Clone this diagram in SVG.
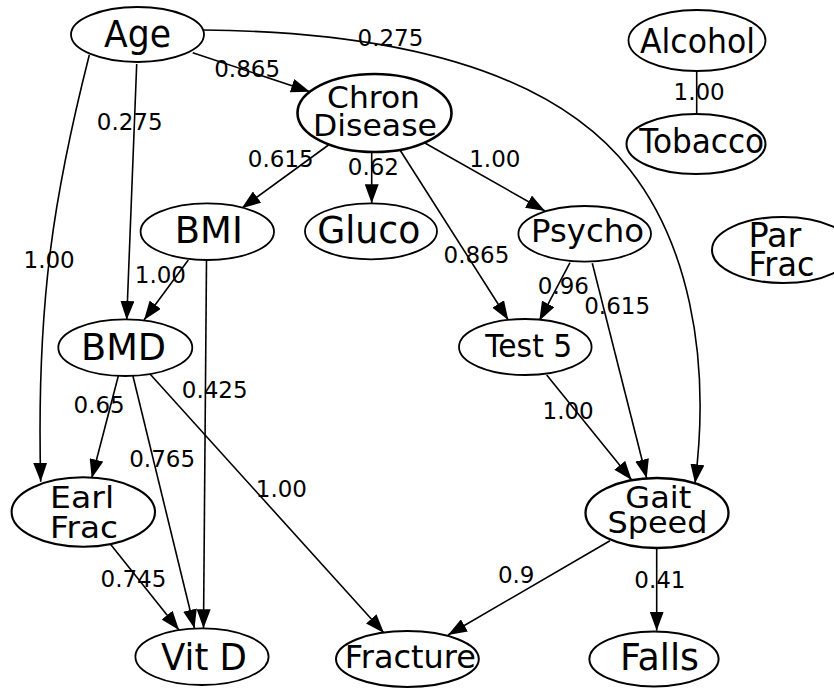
<svg xmlns="http://www.w3.org/2000/svg" width="834" height="688" viewBox="0 0 834 688">
<style>
.edge{fill:none;stroke:#000;stroke-width:1.6}
.lbl{font-family:"DejaVu Sans","Liberation Sans",sans-serif;font-size:23px;fill:#000}
.node ellipse{fill:#fff;stroke:#000;stroke-width:1.8}
.node text{font-family:"DejaVu Sans","Liberation Sans",sans-serif;fill:#000;text-anchor:middle}
.node text.s{text-anchor:start}
</style>
<defs>
<marker id="arr" markerUnits="userSpaceOnUse" markerWidth="19" markerHeight="14" refX="19" refY="7" orient="auto">
<path d="M0,0 L19,7 L0,14 z" fill="#000"/>
</marker>
</defs>
<rect width="834" height="688" fill="#fff"/>
<g id="connectors">
<path class="edge" d="M192.7,52.7 L310,91.7" marker-end="url(#arr)"/>
<text class="lbl" x="214.2" y="77.3">0.865</text>
<path class="edge" d="M203.3,30 C420,32 560,80 630,170 C685,240 712,350 695,483.3" marker-end="url(#arr)"/>
<text class="lbl" x="357.5" y="45.7">0.275</text>
<path class="edge" d="M136.7,64 L126.7,320" marker-end="url(#arr)"/>
<text class="lbl" x="96.8" y="130">0.275</text>
<path class="edge" d="M89.3,55 C55,190 36,300 40.7,481.7" marker-end="url(#arr)"/>
<text class="lbl" x="23.5" y="268.3">1.00</text>
<path class="edge" d="M328.5,145 L241.7,208.3" marker-end="url(#arr)"/>
<text class="lbl" x="247.8" y="167.3">0.615</text>
<path class="edge" d="M371.7,152 L371.7,203.3" marker-end="url(#arr)"/>
<text class="lbl" x="347.8" y="175">0.62</text>
<path class="edge" d="M424,142.5 L545,211" marker-end="url(#arr)"/>
<text class="lbl" x="469.2" y="166.7">1.00</text>
<path class="edge" d="M400,150 L508.3,320" marker-end="url(#arr)"/>
<text class="lbl" x="443.5" y="263.3">0.865</text>
<path class="edge" d="M570,262.7 L539.3,320.7" marker-end="url(#arr)"/>
<text class="lbl" x="537.8" y="294">0.96</text>
<path class="edge" d="M592.3,263.3 L646.7,478.3" marker-end="url(#arr)"/>
<text class="lbl" x="584.2" y="314">0.615</text>
<path class="edge" d="M546.7,375 L631.7,480" marker-end="url(#arr)"/>
<text class="lbl" x="542.5" y="419.3">1.00</text>
<path class="edge" d="M188.3,260 L144,320" marker-end="url(#arr)"/>
<text class="lbl" x="134.8" y="282.7">1.00</text>
<path class="edge" d="M206.5,260 L203.5,628.3" marker-end="url(#arr)"/>
<text class="lbl" x="181.8" y="398.3">0.425</text>
<path class="edge" d="M118.3,376 L91.7,478.3" marker-end="url(#arr)"/>
<text class="lbl" x="73.5" y="413.3">0.65</text>
<path class="edge" d="M132.7,375 L194.5,628.5" marker-end="url(#arr)"/>
<text class="lbl" x="129.2" y="466.7">0.765</text>
<path class="edge" d="M150,374 L384,633" marker-end="url(#arr)"/>
<text class="lbl" x="255.8" y="497.3">1.00</text>
<path class="edge" d="M110.7,544.5 L179,630" marker-end="url(#arr)"/>
<text class="lbl" x="100.5" y="586.7">0.745</text>
<path class="edge" d="M610,540.7 L448,635" marker-end="url(#arr)"/>
<text class="lbl" x="497.9" y="583.3">0.9</text>
<path class="edge" d="M656.7,548 L656.7,630.7" marker-end="url(#arr)"/>
<text class="lbl" x="634.3" y="588.3">0.41</text>
<path class="edge" d="M696.7,71 L696.7,114"/>
<text class="lbl" x="673.5" y="100">1.00</text>
</g>
<g id="node-age" class="node"><ellipse cx="137.5" cy="34.5" rx="66.5" ry="27.5"/><text x="137.5" y="46.7" font-size="37" textLength="67" lengthAdjust="spacingAndGlyphs">Age</text></g>
<g id="node-chron" class="node"><ellipse cx="374.5" cy="113" rx="77" ry="39" style="stroke-width:2.6"/><text x="373.5" y="108.3" font-size="31" textLength="93" lengthAdjust="spacingAndGlyphs">Chron</text><text x="375" y="136" font-size="31" textLength="124" lengthAdjust="spacingAndGlyphs">Disease</text></g>
<g id="node-alcohol" class="node"><ellipse cx="697" cy="40.5" rx="68.5" ry="30.5"/><text x="697.5" y="53" font-size="34" textLength="115" lengthAdjust="spacingAndGlyphs">Alcohol</text></g>
<g id="node-tobacco" class="node"><ellipse cx="696" cy="144" rx="69.5" ry="30" style="stroke-width:2"/><text x="701.7" y="153.3" font-size="33" textLength="125" lengthAdjust="spacingAndGlyphs">Tobacco</text></g>
<g id="node-bmi" class="node"><ellipse cx="207.3" cy="231.7" rx="66.7" ry="28.3"/><text x="208.8" y="242.7" font-size="38" textLength="68" lengthAdjust="spacingAndGlyphs">BMI</text></g>
<g id="node-gluco" class="node"><ellipse cx="371" cy="231.3" rx="66" ry="28"/><text x="368.8" y="242.7" font-size="37" textLength="103" lengthAdjust="spacingAndGlyphs">Gluco</text></g>
<g id="node-psycho" class="node"><ellipse cx="584.7" cy="233.8" rx="66.3" ry="27.8"/><text x="587.5" y="241.7" font-size="32" textLength="113" lengthAdjust="spacingAndGlyphs">Psycho</text></g>
<g id="node-parfrac" class="node"><ellipse cx="783" cy="250" rx="71" ry="33" style="stroke-width:2"/><text class="s" x="748.4" y="246.7" font-size="34" textLength="53" lengthAdjust="spacingAndGlyphs">Par</text><text class="s" x="748.4" y="276" font-size="34" textLength="66" lengthAdjust="spacingAndGlyphs">Frac</text></g>
<g id="node-bmd" class="node"><ellipse cx="125.3" cy="347.7" rx="67" ry="28.3"/><text x="123.5" y="360" font-size="38" textLength="85" lengthAdjust="spacingAndGlyphs">BMD</text></g>
<g id="node-test5" class="node"><ellipse cx="525.3" cy="347" rx="66.3" ry="28"/><text x="528.7" y="356.7" font-size="32" textLength="87" lengthAdjust="spacingAndGlyphs">Test 5</text></g>
<g id="node-earlfrac" class="node"><ellipse cx="83.3" cy="512" rx="71.7" ry="34.7" style="stroke-width:2.1"/><text class="s" x="50.1" y="508.3" font-size="30" textLength="64" lengthAdjust="spacingAndGlyphs">Earl</text><text class="s" x="50.1" y="538.3" font-size="30" textLength="68" lengthAdjust="spacingAndGlyphs">Frac</text></g>
<g id="node-gait" class="node"><ellipse cx="657" cy="513" rx="71.5" ry="35" style="stroke-width:2.3"/><text x="658.3" y="508.3" font-size="30" textLength="66" lengthAdjust="spacingAndGlyphs">Gait</text><text x="657.5" y="533.3" font-size="30" textLength="100" lengthAdjust="spacingAndGlyphs">Speed</text></g>
<g id="node-vitd" class="node"><ellipse cx="202" cy="656.7" rx="66.6" ry="28.3"/><text x="204" y="670" font-size="36.6" textLength="86" lengthAdjust="spacingAndGlyphs">Vit D</text></g>
<g id="node-fracture" class="node"><ellipse cx="407.4" cy="659" rx="71.4" ry="28" style="stroke-width:2"/><text x="410.3" y="668.3" font-size="32" textLength="131" lengthAdjust="spacingAndGlyphs">Fracture</text></g>
<g id="node-falls" class="node"><ellipse cx="654" cy="659" rx="64.6" ry="27.5" style="stroke-width:2"/><text x="659.5" y="670" font-size="36.6" textLength="79" lengthAdjust="spacingAndGlyphs">Falls</text></g>
</svg>
